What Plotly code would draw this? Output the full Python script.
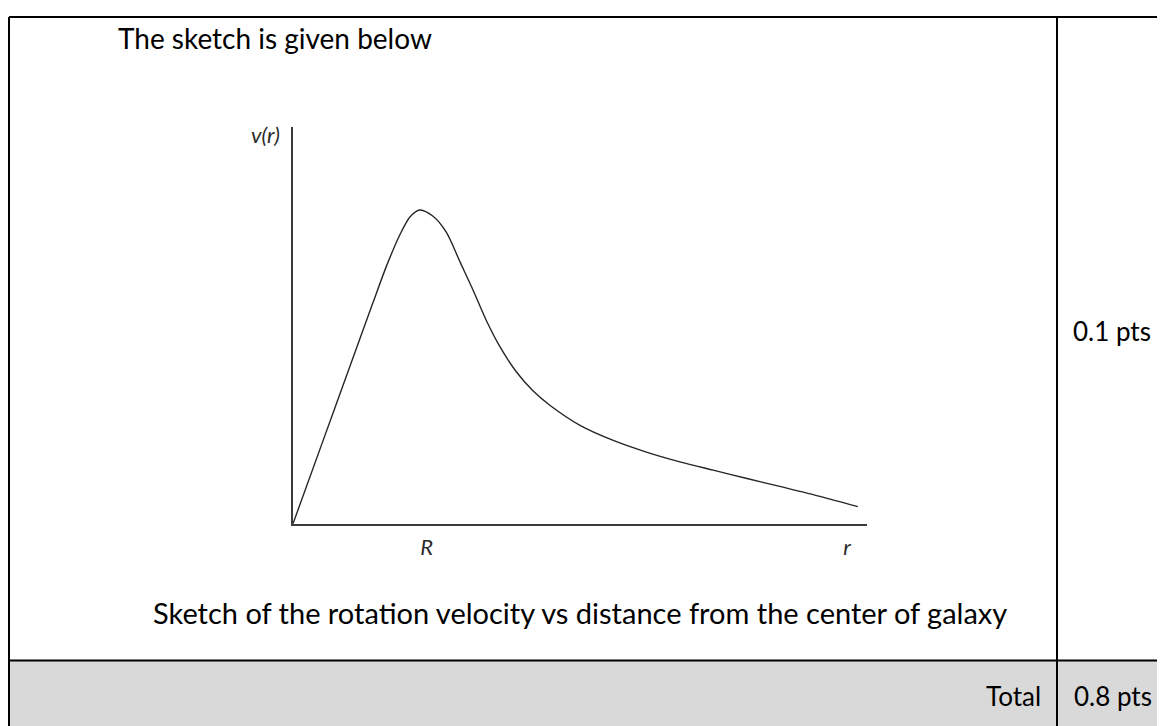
import plotly.graph_objects as go

# Sketch of the rotation curve (arbitrary units)
r_vals = [0.0, 0.50, 1.00, 1.40, 1.63, 1.86, 2.04, 2.21, 2.44, 2.67, 2.91, 3.14,
          3.36, 3.61, 3.89, 4.18, 4.48, 5.00, 5.58, 6.17, 6.74, 7.32, 7.91, 8.48,
          9.18, 9.84]
v_vals = [0.0, 2.00, 4.00, 5.60, 6.50, 7.28, 7.74, 7.91, 7.75, 7.35, 6.60, 5.88,
          5.15, 4.45, 3.83, 3.35, 2.98, 2.48, 2.10, 1.80, 1.56, 1.35, 1.14, 0.94,
          0.69, 0.43]

x_tick_pos = [2.33, 9.65]
x_tick_text = ["R", "r"]
y_tick_pos = [9.8]
y_tick_text = ["v(r)"]

heading = "The sketch is given below"
caption = "Sketch of the rotation velocity vs distance from the center of galaxy"
points_text = "0.1 pts"
total_label = "Total"
total_points = "0.8 pts"

# page body keeps its default 8px margin, so the figure is drawn 8px in
OFF = 8
W, H = 1165 - OFF, 726 - OFF
FONT = "Lato"


def px(x):
    return (x - OFF) / W


def py(y):
    return 1 - (y - OFF) / H


fig = go.Figure()

fig.add_trace(go.Scatter(
    x=r_vals, y=v_vals,
    mode="lines",
    line=dict(color="#262626", width=1.4, shape="spline", smoothing=0.8),
    hoverinfo="skip",
    showlegend=False,
))

# table frame and grey total row
border = dict(color="black", width=2)
shapes = [
    dict(type="rect", xref="paper", yref="paper",
         x0=px(9), x1=1.02, y0=py(660), y1=-0.05,
         fillcolor="#d9d9d9", line=dict(width=0), layer="below"),
    dict(type="line", xref="paper", yref="paper",
         x0=px(9), x1=1.02, y0=py(11), y1=py(11), line=border),
    dict(type="line", xref="paper", yref="paper",
         x0=px(9), x1=px(9), y0=py(11), y1=-0.05, line=border),
    dict(type="line", xref="paper", yref="paper",
         x0=px(1057), x1=px(1057), y0=py(11), y1=-0.05, line=border),
    dict(type="line", xref="paper", yref="paper",
         x0=px(9), x1=1.02, y0=py(660), y1=py(660), line=border),
]

annotations = [
    dict(text=heading, x=px(116), y=py(32), xanchor="left", size=28),
    dict(text=caption, x=px(580), y=py(612), xanchor="center", size=29),
    dict(text=points_text, x=px(1071), y=py(328), xanchor="left", size=26),
    dict(text=total_label, x=px(1043), y=py(696), xanchor="right", size=26),
    dict(text=total_points, x=px(1072), y=py(696), xanchor="left", size=26),
]
for a in annotations:
    size = a.pop("size")
    a.update(xref="paper", yref="paper", yanchor="middle", showarrow=False,
             font=dict(family=FONT, size=size, color="black"))

axis_font = dict(family=FONT, size=22, color="#2b2b2b", style="italic")

fig.update_layout(
    width=W, height=H,
    margin=dict(l=0, r=0, t=0, b=0),
    paper_bgcolor="white",
    plot_bgcolor="rgba(0,0,0,0)",
    shapes=shapes,
    annotations=annotations,
    xaxis=dict(
        domain=[px(293), px(867)], range=[0, 10],
        showgrid=False, zeroline=False,
        showline=True, linecolor="#3a3a3a", linewidth=1.5,
        tickvals=x_tick_pos, ticktext=x_tick_text,
        ticks="outside", ticklen=3, tickcolor="rgba(0,0,0,0)",
        tickfont=axis_font, fixedrange=True,
    ),
    yaxis=dict(
        domain=[py(522), py(122)], range=[0, 10],
        showgrid=False, zeroline=False,
        showline=True, linecolor="#3a3a3a", linewidth=1.5,
        tickvals=y_tick_pos, ticktext=y_tick_text,
        ticks="outside", ticklen=7, tickcolor="rgba(0,0,0,0)",
        tickfont=axis_font, fixedrange=True,
    ),
)

fig.write_html("out.html")
